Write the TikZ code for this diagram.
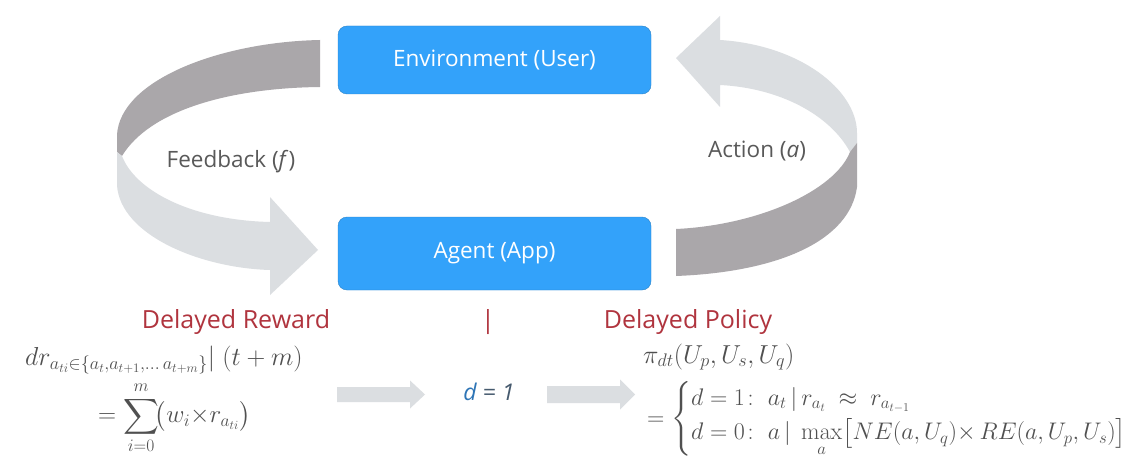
\RequirePackage{fix-cm}
\documentclass[tikz,border=0pt]{standalone}
\usepackage{amsmath}
\usepackage[no-math]{fontspec}
\setmainfont{Open Sans}
\definecolor{boxblue}{RGB}{51,162,250}
\definecolor{labelgray}{RGB}{89,89,89}
\definecolor{mathgray}{RGB}{80,80,80}
\definecolor{darkred}{RGB}{176,52,62}
\definecolor{ribdark}{RGB}{170,167,170}
\definecolor{riblight}{RGB}{219,222,225}
\definecolor{dblue}{RGB}{46,117,182}
\definecolor{dgray}{RGB}{70,90,110}
\tikzset{
  box/.style={fill=boxblue, draw=boxblue!80!black, line width=0.4pt, rounded corners=9pt,
    minimum width=313pt, text=white, font=\fontsize{22.5}{26}\selectfont},
  lbl/.style={text=labelgray, font=\fontsize{22.5}{26}\selectfont, inner sep=0pt},
  head/.style={text=darkred, font=\fontsize{25}{29}\selectfont, inner sep=0pt},
  mth/.style={text=mathgray, font=\fontsize{25}{29}\selectfont, inner sep=0pt},
  flat/.style={fill=riblight},
}
\begin{document}
\begin{tikzpicture}[x=1pt,y=-1pt]
\useasboundingbox (0,0) rectangle (1138,476);
\fill[white] (0,0) rectangle (1138,476);

% nodes
\node[box, minimum height=68pt] (env) at (494.5,60) {Environment (User)};
\node[box, minimum height=73pt] (agent) at (494.5,253.5) {Agent (App)};

% left ribbon (feedback)
\fill[ribdark] (320,40) .. controls (220,42) and (120,80) .. (117,135) -- (117,152) -- (122,156)
  .. controls (150,110) and (230,88) .. (320,87) -- cycle;
\fill[riblight] (117,152) -- (117,185) .. controls (120,235) and (200,268) .. (270,270)
  -- (270,295) -- (318,250) -- (270,197) -- (270,222)
  .. controls (190,220) and (135,190) .. (122,156) -- cycle;

% right ribbon (action)
\fill[riblight] (676,58) -- (720,16) -- (720,40) .. controls (800,45) and (857,90) .. (857,133)
  -- (857,143) -- (850,152) .. controls (830,115) and (780,88) .. (720,85) -- (720,107) -- cycle;
\fill[ribdark] (857,143) -- (857,187) .. controls (850,240) and (780,272) .. (676,276)
  -- (676,229) .. controls (760,225) and (835,190) .. (850,152) -- cycle;

\node[lbl] (fb) at (231,162) {Feedback (\textit{f})};
\node[lbl] (act) at (757,151) {Action (\textit{a})};

% headings
\node[head] (dr) at (236,322) {Delayed Reward};
\node[head] (bar) at (488,322) {|};
\node[head] (dp) at (688,322) {Delayed Policy};

% formulas
\node[mth, font=\fontsize{26}{30}\selectfont, anchor=base west] (f1) at (25,365)
  {$dr_{a_{ti}\in\{a_t,a_{t+1},\dots\,a_{t+m}\}}|\;(t+m)$};
\node[mth, anchor=west] (f2) at (98,418)
  {$=\displaystyle\sum_{i=0}^{m}\!\bigl(w_i{\times}r_{a_{ti}}\bigr)$};

\node[mth, font=\fontsize{26}{30}\selectfont, anchor=base west] (p1) at (643,363) {$\pi_{dt}(U_p,U_s,U_q)$};
\node[mth, font=\fontsize{24}{29}\selectfont, anchor=west] (p2) at (647,419)
  {$=\begin{cases} d=1\colon\ a_t\,|\,r_{a_t}\ \approx\ r_{a_{t-1}}\\
   d=0\colon\ a\,|\ \max\limits_a\bigl[NE(a,U_q){\times}\,RE(a,U_p,U_s)\bigr]\end{cases}$};

% middle
\coordinate (a1s) at (337,394.5);
\coordinate (a1e) at (425,394.5);
\coordinate (a2s) at (547,394.5);
\coordinate (a2e) at (635,394.5);
\node[inner sep=0pt, font=\fontsize{23}{27}\selectfont\itshape] (d1) at (489,392)
  {\textcolor{dblue}{d} \textcolor{dgray}{= 1}};
\fill[flat] ([yshift=-7.5pt]a1s) -- ([xshift=-15pt,yshift=-7.5pt]a1e) -- ([xshift=-15pt,yshift=-14pt]a1e)
  -- (a1e) -- ([xshift=-15pt,yshift=14pt]a1e) -- ([xshift=-15pt,yshift=7.5pt]a1e) -- ([yshift=7.5pt]a1s) -- cycle;
\fill[flat] ([yshift=-8.5pt]a2s) -- ([xshift=-15pt,yshift=-8.5pt]a2e) -- ([xshift=-15pt,yshift=-15pt]a2e)
  -- (a2e) -- ([xshift=-15pt,yshift=15pt]a2e) -- ([xshift=-15pt,yshift=8.5pt]a2e) -- ([yshift=8.5pt]a2s) -- cycle;
\end{tikzpicture}
\end{document}
